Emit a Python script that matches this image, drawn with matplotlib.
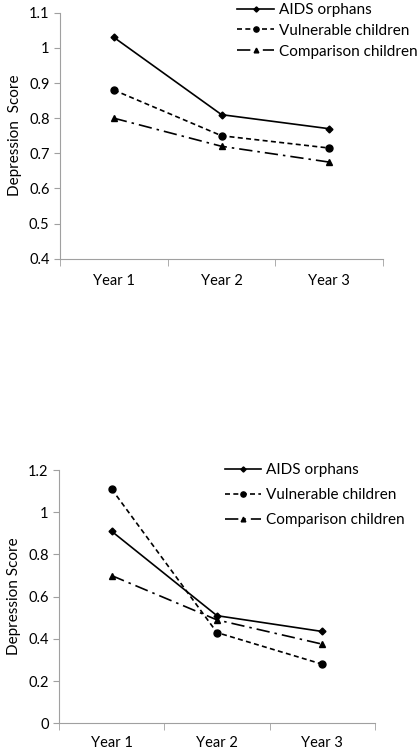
"""Depression scores over three years for AIDS orphans, vulnerable and comparison children."""

import matplotlib.pyplot as plt
from matplotlib.ticker import FixedLocator, NullFormatter

plt.rcParams['font.family'] = ['Lato', 'DejaVu Sans']

YEARS = ["Year 1", "Year 2", "Year 3"]
SERIES = ["AIDS orphans", "Vulnerable children", "Comparison children"]

# top panel
top_orphans = [1.03, 0.81, 0.77]
top_vulnerable = [0.88, 0.75, 0.715]
top_comparison = [0.80, 0.72, 0.675]

# bottom panel
bot_orphans = [0.91, 0.51, 0.435]
bot_vulnerable = [1.11, 0.43, 0.28]
bot_comparison = [0.70, 0.49, 0.375]

AXIS_COL = "#a0a0a0"
FS = 10.5


def draw_panel(ax, orphans, vulnerable, comparison, ylim, yticks, ylabel,
               legend_anchor, xpad, spacing):
    x = range(1, len(YEARS) + 1)
    ax.plot(x, orphans, linestyle='-', color='k', linewidth=1.2,
            marker='D', markersize=3.5, label=SERIES[0])
    ax.plot(x, vulnerable, linestyle=(0, (3, 2)), color='k', linewidth=1.2,
            marker='o', markersize=5, label=SERIES[1])
    ax.plot(x, comparison, linestyle=(0, (8, 3, 1.5, 3)), color='k',
            linewidth=1.2, marker='^', markersize=4.5, label=SERIES[2])

    ax.set_xlim(0.5, len(YEARS) + 0.5)
    ax.set_ylim(ylim)
    ax.set_yticks(yticks)
    ax.set_yticklabels(["%g" % t for t in yticks])
    ax.set_xticks(list(x))
    ax.set_xticklabels(YEARS)
    ax.xaxis.set_minor_locator(FixedLocator([0.5, 1.5, 2.5, 3.5]))
    ax.xaxis.set_minor_formatter(NullFormatter())
    ax.tick_params(axis='x', which='major', length=0, pad=xpad, labelsize=FS)
    ax.tick_params(axis='x', which='minor', length=5, color=AXIS_COL)
    ax.tick_params(axis='y', length=4, color=AXIS_COL, labelsize=FS)
    for side in ("top", "right"):
        ax.spines[side].set_visible(False)
    for side in ("left", "bottom"):
        ax.spines[side].set_color(AXIS_COL)
    ax.set_ylabel(ylabel, fontsize=FS + 0.5, labelpad=5)
    for line in ax.lines:
        line.set_clip_on(False)

    ax.legend(loc='upper left', bbox_to_anchor=legend_anchor, frameon=False,
              fontsize=11, handlelength=2.4, handletextpad=0.3,
              labelspacing=spacing, borderaxespad=0, markerscale=0.75)


fig = plt.figure(figsize=(4.18, 7.5), dpi=100)
ax_top = fig.add_axes([0.1435, 0.655, 0.773, 0.328])
ax_bot = fig.add_axes([0.141, 0.0356, 0.756, 0.3377])

draw_panel(ax_top, top_orphans, top_vulnerable, top_comparison,
           (0.4, 1.1), [0.4, 0.5, 0.6, 0.7, 0.8, 0.9, 1.0, 1.1],
           "Depression  Score", (0.53, 1.065), 11, 0.45)
draw_panel(ax_bot, bot_orphans, bot_vulnerable, bot_comparison,
           (0, 1.2), [0, 0.2, 0.4, 0.6, 0.8, 1.0, 1.2],
           "Depression Score", (0.505, 1.05), 9, 0.7)

fig.savefig("out.png", dpi=100)
